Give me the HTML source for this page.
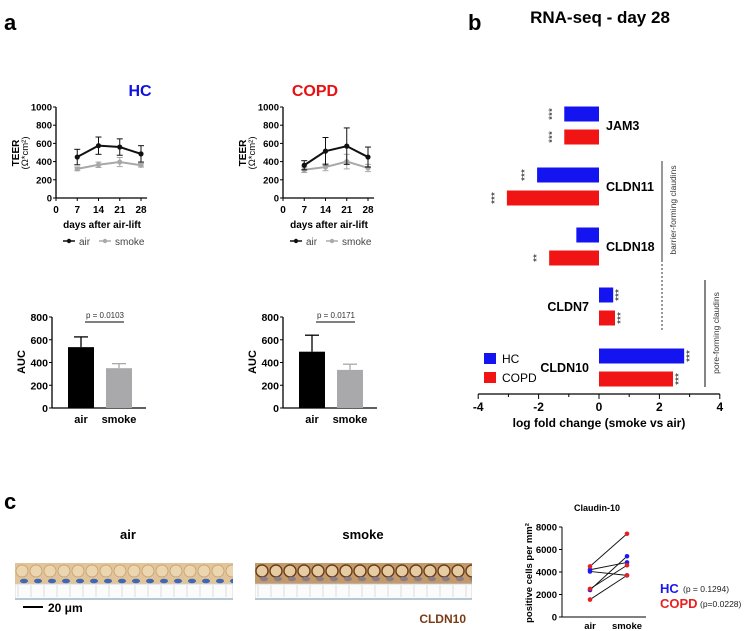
<!DOCTYPE html>
<html><head><meta charset="utf-8"><style>
body{margin:0;background:#fff}
svg{display:block;font-family:"Liberation Sans",Arial,sans-serif}
</style></head><body>
<svg id="fig" width="747" height="631" viewBox="0 0 747 631" xmlns="http://www.w3.org/2000/svg">
<defs>
<clipPath id="clipAir"><rect x="15" y="556" width="218" height="45"/></clipPath>
<clipPath id="clipSmoke"><rect x="255" y="556" width="217" height="45"/></clipPath>
</defs>
<text x="4" y="30" font-size="22" font-weight="bold">a</text>
<text x="468" y="30" font-size="22" font-weight="bold">b</text>
<text x="4" y="509" font-size="22" font-weight="bold">c</text>
<text x="140" y="96" font-size="16" font-weight="bold" fill="#1010e0" text-anchor="middle">HC</text>
<text x="315" y="96" font-size="16" font-weight="bold" fill="#e81010" text-anchor="middle">COPD</text>
<text x="600" y="23" font-size="17" font-weight="bold" text-anchor="middle">RNA-seq - day 28</text>
<g id="gA"></g><g id="gB"></g><g id="gC"></g>
</svg>
<script>
const NS="http://www.w3.org/2000/svg";
function mk(p,t,a,txt){const e=document.createElementNS(NS,t);for(const k in a)e.setAttribute(k,a[k]);if(txt!==undefined)e.textContent=txt;p.appendChild(e);return e;}
// ---------- data ----------
const days=[7,14,21,28];
const xTicks=[0,7,14,21,28];
const teerTicks=[0,200,400,600,800,1000];
const hcAir=[450,575,560,485];
const hcAirErr=[85,95,90,90];
const hcSmoke=[320,365,395,360];
const hcSmokeErr=[20,30,50,20];
const copdAir=[360,515,570,450];
const copdAirErr=[50,150,200,110];
const copdSmoke=[310,340,400,330];
const copdSmokeErr=[30,40,80,40];
const aucTicks=[0,200,400,600,800];
const aucCats=["air","smoke"];
const hcAuc=[535,350];
const hcAucErr=[90,40];
const copdAuc=[495,335];
const copdAucErr=[145,50];
const genes=["JAM3","CLDN11","CLDN18","CLDN7","CLDN10"];
const lfcHC=[-1.15,-2.05,-0.75,0.47,2.82];
const lfcCOPD=[-1.15,-3.05,-1.65,0.53,2.45];
const starsHC=["***","***","","***","***"];
const starsCOPD=["***","***","**","***","***"];
const lfcTicks=[-4,-2,0,2,4];
const cldTicks=[0,2000,4000,6000,8000];
const hcPairsAir=[4200,4050,2400];
const hcPairsSmoke=[4850,3700,5400];
const copdPairsAir=[4500,2500,1550];
const copdPairsSmoke=[7400,4600,3700];

const gA=document.getElementById('gA');
function lineChart(ox,air,airE,sm,smE,nm){
  const g=mk(gA,'g',{});
  
  
  const X=d=>ox+d*(85/28), Y=v=>198-v*0.091;
  mk(g,'line',{x1:ox,y1:Y(0),x2:ox,y2:Y(1000),stroke:'#000','stroke-width':1.3});
  mk(g,'line',{x1:ox,y1:Y(0),x2:X(30),y2:Y(0),stroke:'#000','stroke-width':1.3});
  teerTicks.forEach(t=>{mk(g,'line',{x1:ox-3,x2:ox,y1:Y(t),y2:Y(t),stroke:'#000'});
    const tx=mk(g,'text',{x:ox-4,y:Y(t)+3.5,'font-size':9.5,'font-weight':'bold','text-anchor':'end'},t);
    });
  xTicks.forEach(t=>{mk(g,'line',{x1:X(t),x2:X(t),y1:Y(0),y2:Y(0)+3,stroke:'#000'});
    const tx=mk(g,'text',{x:X(t),y:213,'font-size':10,'font-weight':'bold','text-anchor':'middle'},t);
    });
  const xt=mk(g,'text',{x:ox+46,y:228,'font-size':10,'font-weight':'bold','text-anchor':'middle'},'days after air-lift');
  
  const yt=mk(g,'text',{transform:`translate(${ox-37},153) rotate(-90)`,'font-size':10,'font-weight':'bold','text-anchor':'middle'},'TEER');
  
  mk(g,'text',{transform:`translate(${ox-28},153) rotate(-90)`,'font-size':9.5,'text-anchor':'middle'},'(Ω*cm²)');
  [[sm,smE,'#a8a8a8','smoke'],[air,airE,'#111','air']].forEach(([v,e,c,n])=>{
    const s=mk(g,'g',{});
    mk(s,'polyline',{points:days.map((d,i)=>X(d)+','+Y(v[i])).join(' '),fill:'none',stroke:c,'stroke-width':2});
    days.forEach((d,i)=>{mk(s,'line',{x1:X(d),x2:X(d),y1:Y(v[i]-e[i]),y2:Y(v[i]+e[i]),stroke:c,'stroke-width':1});
      [v[i]-e[i],v[i]+e[i]].forEach(q=>mk(s,'line',{x1:X(d)-3,x2:X(d)+3,y1:Y(q),y2:Y(q),stroke:c}));
      const p=mk(s,'circle',{cx:X(d),cy:Y(v[i]),r:2.6,fill:c});});
  });
  const lg=mk(g,'g',{});
  mk(lg,'line',{x1:ox+7,x2:ox+19,y1:241,y2:241,stroke:'#111','stroke-width':1.5});mk(lg,'circle',{cx:ox+13,cy:241,r:2.2,fill:'#111'});
  mk(lg,'text',{x:ox+23,y:245,'font-size':10,fill:'#444'},'air');
  mk(lg,'line',{x1:ox+43,x2:ox+55,y1:241,y2:241,stroke:'#aaa','stroke-width':1.5});mk(lg,'circle',{cx:ox+49,cy:241,r:2.2,fill:'#aaa'});
  mk(lg,'text',{x:ox+59,y:245,'font-size':10,fill:'#444'},'smoke');
}
lineChart(56,hcAir,hcAirErr,hcSmoke,hcSmokeErr,'hc');
lineChart(283,copdAir,copdAirErr,copdSmoke,copdSmokeErr,'copd');

function barChart(ox,v,e,p,nm){
  const g=mk(gA,'g',{});
  const Y=t=>408-t*(91/800);
  mk(g,'line',{x1:ox,x2:ox,y1:Y(0),y2:Y(800),stroke:'#000','stroke-width':1.3});
  mk(g,'line',{x1:ox,x2:ox+94,y1:Y(0),y2:Y(0),stroke:'#000','stroke-width':1.3});
  aucTicks.forEach(t=>{mk(g,'line',{x1:ox-3,x2:ox,y1:Y(t),y2:Y(t),stroke:'#000'});
    const tx=mk(g,'text',{x:ox-4,y:Y(t)+4,'font-size':10.5,'font-weight':'bold','text-anchor':'end'},t);
    });
  const yt=mk(g,'text',{transform:`translate(${ox-27},362) rotate(-90)`,'font-size':11,'font-weight':'bold','text-anchor':'middle'},'AUC');
  
  const cols=['#000','#a9a9ab'];
  aucCats.forEach((c,i)=>{const x=ox+16+i*38;
    mk(g,'line',{x1:x+13,x2:x+13,y1:Y(v[i]),y2:Y(v[i]+e[i]),stroke:cols[i],'stroke-width':1.3});
    mk(g,'line',{x1:x+6,x2:x+20,y1:Y(v[i]+e[i]),y2:Y(v[i]+e[i]),stroke:cols[i],'stroke-width':1.3});
    const b=mk(g,'rect',{x:x,y:Y(v[i]),width:26,height:Y(0)-Y(v[i]),fill:cols[i]});
    
    const tx=mk(g,'text',{x:x+13,y:423,'font-size':11,'font-weight':'bold','text-anchor':'middle'},c);
    });
  mk(g,'line',{x1:ox+33,x2:ox+72,y1:322,y2:322,stroke:'#000'});
  const pt=mk(g,'text',{x:ox+53,y:318,'font-size':8,'text-anchor':'middle',fill:'#333'},p);
  
}
barChart(52,hcAuc,hcAucErr,'p = 0.0103','hc');
barChart(283,copdAuc,copdAucErr,'p = 0.0171','copd');

// ---------- panel b ----------
const gB=document.getElementById('gB');

const BX=v=>599+v*30.2;
const rowY=[114,175,235,295,356];
mk(gB,'line',{x1:BX(-4),x2:BX(4),y1:394,y2:394,stroke:'#000','stroke-width':1.3});
lfcTicks.forEach(t=>{mk(gB,'line',{x1:BX(t),x2:BX(t),y1:394,y2:399,stroke:'#000'});
  const tx=mk(gB,'text',{x:BX(t),y:411,'font-size':12,'font-weight':'bold','text-anchor':'middle'},t);
  });
[-3,-1,1,3].forEach(t=>mk(gB,'line',{x1:BX(t),x2:BX(t),y1:394,y2:397,stroke:'#000'}));
const bxt=mk(gB,'text',{x:599,y:427,'font-size':12,'font-weight':'bold','text-anchor':'middle'},'log fold change (smoke vs air)');

genes.forEach((gn,i)=>{
  [[lfcHC,starsHC,'#1414f0',0,'hc'],[lfcCOPD,starsCOPD,'#f01414',23,'copd']].forEach(([arr,st,c,off,n])=>{
    const v=arr[i],y=rowY[i]+off,x0=Math.min(BX(0),BX(v));
    const b=mk(gB,'rect',{x:x0,y:y-7.5,width:Math.abs(BX(v)-BX(0)),height:15,fill:c});
    
    if(st[i]){const sx=v<0?BX(v)-9:BX(v)+9;
      mk(gB,'text',{transform:`translate(${sx},${y}) rotate(-90)`,'font-size':10,'text-anchor':'middle',fill:'#222'},st[i]);}
  });
  const pos=lfcHC[i]<0;
  const lt=mk(gB,'text',{x:pos?606:589,y:rowY[i]+16,'font-size':12.5,'font-weight':'bold','text-anchor':pos?'start':'end'},gn);
  
});
mk(gB,'line',{x1:662,x2:662,y1:161,y2:260,stroke:'#555','stroke-width':1.2});
mk(gB,'line',{x1:662,x2:662,y1:260,y2:330,stroke:'#555','stroke-width':1.2,'stroke-dasharray':'2,2'});
mk(gB,'text',{transform:'translate(676,210) rotate(-90)','font-size':8.5,'text-anchor':'middle',fill:'#333'},'barrier-forming claudins');
mk(gB,'line',{x1:705,x2:705,y1:280,y2:387,stroke:'#333','stroke-width':1.2});
mk(gB,'text',{transform:'translate(719,333) rotate(-90)','font-size':8.5,'text-anchor':'middle',fill:'#333'},'pore-forming claudins');
const lgB=mk(gB,'g',{});
mk(lgB,'rect',{x:484,y:353,width:12,height:11,fill:'#1414f0'});mk(lgB,'text',{x:502,y:363,'font-size':12},'HC');
mk(lgB,'rect',{x:484,y:372,width:12,height:11,fill:'#f01414'});mk(lgB,'text',{x:502,y:382,'font-size':12},'COPD');

// ---------- panel c ----------
const gC=document.getElementById('gC');
mk(gC,'text',{x:128,y:539,'font-size':13,'font-weight':'bold','text-anchor':'middle'},'air');
mk(gC,'text',{x:363,y:539,'font-size':13,'font-weight':'bold','text-anchor':'middle'},'smoke');
function tissue(x,w,nm,dark,clip){
  const g=mk(gC,'g',{'clip-path':'url(#'+clip+')'});
  mk(g,'rect',{x:x,y:563,width:w,height:21,fill:dark?'#c39a6c':'#e2c49a'});
  mk(g,'rect',{x:x,y:584,width:w,height:15,fill:'#fbfbfb',stroke:'#c8d4dc','stroke-width':0.8});
  mk(g,'line',{x1:x,x2:x+w,y1:599,y2:599,stroke:'#9fb6c6','stroke-width':1.5});
  for(let k=0;k<w;k+=13){mk(g,'line',{x1:x+k+3,x2:x+k+3,y1:585,y2:597,stroke:'#ccc','stroke-width':0.6});}
  for(let k=0;k<w-6;k+=14){
    mk(g,'ellipse',{cx:x+k+7,cy:571,rx:6,ry:6,fill:dark?'#e6cca4':'#ecd6b0',stroke:dark?'#6b3e17':'#c09a68','stroke-width':dark?1.4:0.7});
    if(!dark) mk(g,'ellipse',{cx:x+k+9,cy:581,rx:4,ry:2.3,fill:'#3f67b4'});
    else mk(g,'ellipse',{cx:x+k+9,cy:579,rx:4,ry:2.3,fill:'#8a7e8e'});
  }
}
tissue(15,218,'air-histology',false,'clipAir');
tissue(255,217,'smoke-histology',true,'clipSmoke');
mk(gC,'line',{x1:23,x2:43,y1:607,y2:607,stroke:'#000','stroke-width':2});
mk(gC,'text',{x:48,y:612,'font-size':12,'font-weight':'bold'},'20 μm');
mk(gC,'text',{x:466,y:623,'font-size':12,'font-weight':'bold',fill:'#7a3a16','text-anchor':'end'},'CLDN10');

const gD=mk(gC,'g',{});
const CY=v=>617-v*(90/8000), CX=[590,627];
mk(gD,'text',{x:597,y:511,'font-size':9,'font-weight':'bold','text-anchor':'middle'},'Claudin-10');
mk(gD,'line',{x1:562,x2:562,y1:CY(0),y2:CY(8000),stroke:'#000'});
mk(gD,'line',{x1:562,x2:646,y1:CY(0),y2:CY(0),stroke:'#000'});
cldTicks.forEach(t=>{mk(gD,'line',{x1:559,x2:562,y1:CY(t),y2:CY(t),stroke:'#000'});
  const tx=mk(gD,'text',{x:557,y:CY(t)+3.5,'font-size':9.5,'font-weight':'bold','text-anchor':'end'},t);
  });
mk(gD,'text',{transform:'translate(532,573) rotate(-90)','font-size':9.5,'font-weight':'bold','text-anchor':'middle'},'positive cells per mm²');
['air','smoke'].forEach((c,i)=>{const t=mk(gD,'text',{x:CX[i],y:629,'font-size':9.5,'font-weight':'bold','text-anchor':'middle'},c);
  });
[[hcPairsAir,hcPairsSmoke,'#1a1af0','hc'],[copdPairsAir,copdPairsSmoke,'#e82020','copd']].forEach(([a,s,c,n])=>{
  a.forEach((v,i)=>{mk(gD,'line',{x1:CX[0],x2:CX[1],y1:CY(v),y2:CY(s[i]),stroke:'#111','stroke-width':0.9});
    const p1=mk(gD,'circle',{cx:CX[0],cy:CY(v),r:2.3,fill:c});
    const p2=mk(gD,'circle',{cx:CX[1],cy:CY(s[i]),r:2.3,fill:c});});
});
mk(gD,'text',{x:660,y:593,'font-size':13,'font-weight':'bold',fill:'#1a1af0'},'HC');
mk(gD,'text',{x:683,y:592,'font-size':8.5,fill:'#222'},'(p = 0.1294)');
mk(gD,'text',{x:660,y:608,'font-size':13,'font-weight':'bold',fill:'#e82020'},'COPD');
mk(gD,'text',{x:700,y:607,'font-size':8.5,fill:'#222'},'(p=0.0228)');
</script>
</body></html>
